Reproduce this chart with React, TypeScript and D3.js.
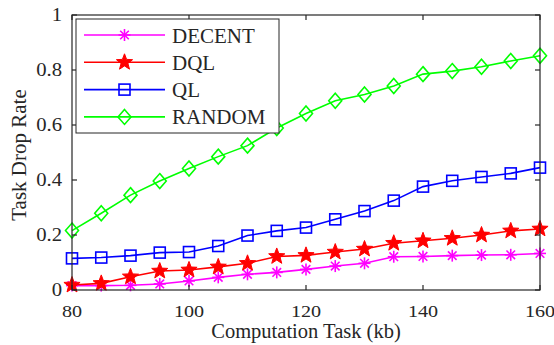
import React from 'react';
import * as d3 from 'd3';

// x values (kb)
const tasks = [80, 85, 90, 95, 100, 105, 110, 115, 120, 125, 130, 135, 140, 145, 150, 155, 160];

const decent = [0.016, 0.016, 0.017, 0.022, 0.033, 0.046, 0.057, 0.064, 0.075, 0.087, 0.097, 0.121, 0.122, 0.125, 0.127, 0.128, 0.133];
const dql = [0.018, 0.024, 0.048, 0.069, 0.073, 0.084, 0.097, 0.122, 0.126, 0.138, 0.149, 0.17, 0.179, 0.188, 0.2, 0.215, 0.222];
const ql = [0.115, 0.118, 0.125, 0.136, 0.138, 0.16, 0.198, 0.215, 0.227, 0.257, 0.287, 0.325, 0.376, 0.397, 0.411, 0.424, 0.445];
const random = [0.216, 0.279, 0.345, 0.396, 0.442, 0.485, 0.525, 0.589, 0.642, 0.688, 0.711, 0.742, 0.785, 0.796, 0.812, 0.833, 0.852];

const xTicks = [80, 100, 120, 140, 160];
const yTicks = [0, 0.2, 0.4, 0.6, 0.8, 1];

const series = [
  { name: 'DECENT', values: decent, color: '#ff00ff', marker: 'asterisk' },
  { name: 'DQL', values: dql, color: '#ff0000', marker: 'star' },
  { name: 'QL', values: ql, color: '#0000ff', marker: 'square' },
  { name: 'RANDOM', values: random, color: '#00ff00', marker: 'diamond' },
];

const W = 554;
const H = 345;
const margin = { top: 15, right: 14, bottom: 55, left: 72 };
const font = '"Liberation Serif", "Times New Roman", serif';
const axisColor = '#262626';

const starPath = (() => {
  const pts: string[] = [];
  const R = 8.5, r = 3.6;
  for (let i = 0; i < 10; i++) {
    const a = -Math.PI / 2 + (i * Math.PI) / 5;
    const rr = i % 2 === 0 ? R : r;
    pts.push(`${(rr * Math.cos(a)).toFixed(2)},${(rr * Math.sin(a)).toFixed(2)}`);
  }
  return 'M' + pts.join('L') + 'Z';
})();

const Marker = ({ type, x, y, color }: { type: string; x: number; y: number; color: string }) => {
  const t = `translate(${x},${y})`;
  if (type === 'asterisk') {
    const s = 6;
    const d = 4.3;
    return (
      <g transform={t} stroke={color} strokeWidth={1.6} fill="none">
        <line x1={0} y1={-s} x2={0} y2={s} />
        <line x1={-s} y1={0} x2={s} y2={0} />
        <line x1={-d} y1={-d} x2={d} y2={d} />
        <line x1={-d} y1={d} x2={d} y2={-d} />
      </g>
    );
  }
  if (type === 'star') {
    return <path transform={t} d={starPath} fill={color} stroke={color} strokeWidth={1} strokeLinejoin="miter" />;
  }
  if (type === 'square') {
    return <rect transform={t} x={-5.5} y={-5.5} width={11} height={11} fill="none" stroke={color} strokeWidth={1.6} />;
  }
  return <path transform={t} d="M0,-7.5L6.5,0L0,7.5L-6.5,0Z" fill="none" stroke={color} strokeWidth={1.6} />;
};

export default function App() {
  const x = d3.scaleLinear().domain([80, 160]).range([margin.left, W - margin.right]);
  const y = d3.scaleLinear().domain([0, 1]).range([H - margin.bottom, margin.top]);
  const line = d3.line<number>().x((_, i) => x(tasks[i])).y((d) => y(d));

  const x0 = x.range()[0];
  const x1 = x.range()[1];
  const y0 = y.range()[0];
  const y1 = y.range()[1];
  const tickLen = 5;

  const legend = { x: 76, y: 19, w: 203, h: 114 };

  return (
    <svg width={W} height={H} style={{ position: 'absolute', left: 0, top: 0, background: '#fff' }} fontFamily={font}>
      <rect x={0} y={0} width={W} height={H} fill="#fff" />
      {/* series */}
      {series.map((s) => (
        <g key={s.name}>
          <path d={line(s.values) || ''} fill="none" stroke={s.color} strokeWidth={1.6} />
          {s.values.map((v, i) => (
            <Marker key={i} type={s.marker} x={x(tasks[i])} y={y(v)} color={s.color} />
          ))}
        </g>
      ))}
      {/* axes box */}
      <rect x={x0} y={y1} width={x1 - x0} height={y0 - y1} fill="none" stroke={axisColor} strokeWidth={1.2} />
      {xTicks.map((t) => (
        <g key={t}>
          <line x1={x(t)} x2={x(t)} y1={y0} y2={y0 - tickLen} stroke={axisColor} strokeWidth={1.2} />
          <line x1={x(t)} x2={x(t)} y1={y1} y2={y1 + tickLen} stroke={axisColor} strokeWidth={1.2} />
          <text transform={`translate(${x(t)},${y0 + 27}) scale(1.15,1)`} textAnchor="middle" fontSize={17.5} fill={axisColor}>{t}</text>
        </g>
      ))}
      {yTicks.map((t) => (
        <g key={t}>
          <line x1={x0} x2={x0 + tickLen} y1={y(t)} y2={y(t)} stroke={axisColor} strokeWidth={1.2} />
          <line x1={x1} x2={x1 - tickLen} y1={y(t)} y2={y(t)} stroke={axisColor} strokeWidth={1.2} />
          <text transform={`translate(${x0 - 10},${y(t) + 6}) scale(1.15,1)`} textAnchor="end" fontSize={18} fill={axisColor}>{t}</text>
        </g>
      ))}
      <text x={(x0 + x1) / 2} y={338} textAnchor="middle" fontSize={20.5} fill={axisColor}>Computation Task (kb)</text>
      <text transform={`translate(26,155) rotate(-90)`} textAnchor="middle" fontSize={21} fill={axisColor}>Task Drop Rate</text>
      {/* legend */}
      <rect x={legend.x} y={legend.y} width={legend.w} height={legend.h} fill="#fff" stroke={axisColor} strokeWidth={1} />
      {series.map((s, i) => {
        const ly = 35 + i * 27.3;
        return (
          <g key={s.name}>
            <line x1={84} x2={165} y1={ly} y2={ly} stroke={s.color} strokeWidth={1.6} />
            <Marker type={s.marker} x={124.5} y={ly} color={s.color} />
            <text x={172} y={ly + 7.5} fontSize={21} fill={axisColor}>{s.name}</text>
          </g>
        );
      })}
    </svg>
  );
}
